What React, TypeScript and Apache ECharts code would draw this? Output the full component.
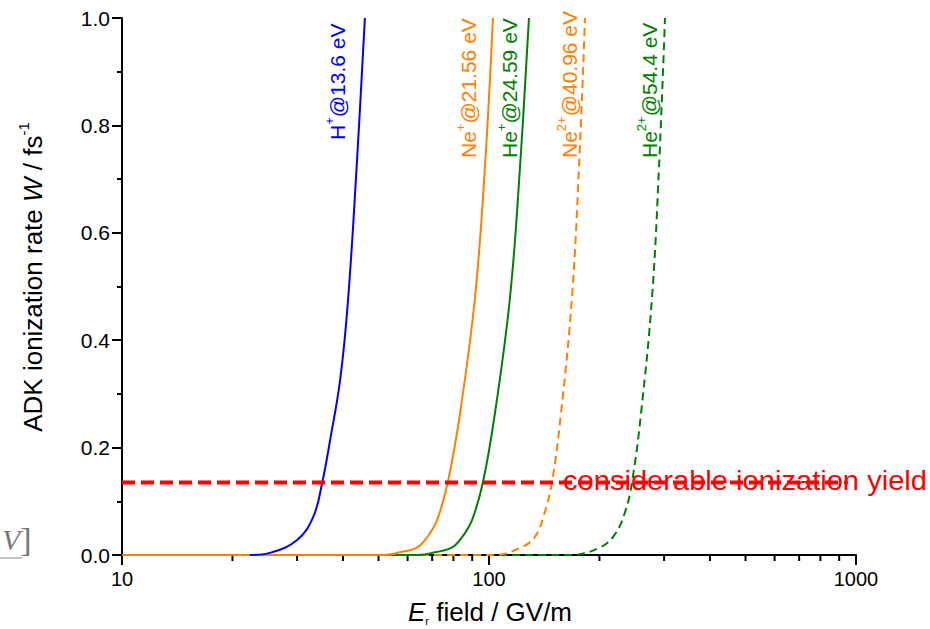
import React, { useEffect, useRef } from 'react';
import * as echarts from 'echarts';

// ---- data (field in GV/m, rate W in 1/fs) ----
const hPlusE = [22.3, 25.3, 30.0, 33.2, 35.1, 36.9, 39.3, 41.3, 43.7, 45.9];
const hPlusW = [0, 0.004, 0.028, 0.071, 0.134, 0.214, 0.326, 0.475, 0.736, 1.0];

const nePlusE = [10, 51.4, 57.2, 63.7, 67.8, 72.2, 77.3, 83.4, 91.6, 97.5, 102.5];
const nePlusW = [0, 0, 0.005, 0.014, 0.033, 0.065, 0.137, 0.264, 0.48, 0.723, 1.0];

const hePlusE = [10, 64.1, 71.3, 79.3, 84.4, 89.9, 96.3, 103.8, 114.1, 121.5, 128.5];
const hePlusW = [0, 0, 0.005, 0.014, 0.033, 0.065, 0.136, 0.264, 0.48, 0.723, 1.0];

const ne2PlusE = [10, 102.5, 121.5, 133.5, 141.2, 148.5, 157.1, 168.3, 175.9, 182.7];
const ne2PlusW = [0, 0, 0.013, 0.034, 0.075, 0.136, 0.264, 0.48, 0.723, 1.0];

const he2PlusE = [10, 166.2, 199.4, 219.1, 234.8, 245.3, 259.6, 278.1, 290.6, 301.7];
const he2PlusW = [0, 0, 0.013, 0.036, 0.08, 0.136, 0.264, 0.48, 0.723, 1.0];

const thresholdE = [10, 950];
const thresholdW = 0.135;

const xMinorTickValues = [20, 30, 40, 50, 60, 70, 80, 90, 200, 300, 400, 500, 600, 700, 800, 900];
const xTickLabels = ['10', '100', '1000'];

const seriesLabels = [
  { main: 'H', sup: '+', rest: '@13.6 eV', color: '#0000ff' },
  { main: 'Ne', sup: '+', rest: '@21.56 eV', color: '#ff8000' },
  { main: 'He', sup: '+', rest: '@24.59 eV', color: '#008000' },
  { main: 'Ne', sup: '2+', rest: '@40.96 eV', color: '#ff8000' },
  { main: 'He', sup: '2+', rest: '@54.4 eV', color: '#008000' },
];
const labelAnchors = [
  [337, 140],
  [468, 158],
  [509, 158],
  [569, 158],
  [649, 158],
];

const FONT = '"Liberation Sans", Arial, Helvetica, sans-serif';
const SERIF = '"Liberation Serif", "DejaVu Serif", serif';

const zip = (xs: number[], ys: number[]) => xs.map((x, i) => [x, ys[i]]);

export default function App() {
  const ref = useRef<HTMLDivElement>(null);

  useEffect(() => {
    if (!ref.current) return;
    const chart = echarts.init(ref.current, null, { renderer: 'svg' });

    const curve = (name: string, data: number[][], color: string, dashed: boolean, z: number) => ({
      name,
      type: 'line',
      data,
      symbol: 'none',
      smooth: 0.4,
      z,
      lineStyle: { color, width: 2, type: dashed ? [8, 5] : 'solid' },
      silent: true,
    });

    const labelGraphics = seriesLabels.map((l, i) => ({
      type: 'text',
      x: labelAnchors[i][0],
      y: labelAnchors[i][1],
      rotation: Math.PI / 2,
      style: {
        text: `{m|${l.main}}{s|${l.sup}}{m|${l.rest}}`,
        align: 'left',
        verticalAlign: 'middle',
        fill: l.color,
        rich: {
          m: { fontSize: 21, fontFamily: FONT, fill: l.color, lineHeight: 28 },
          s: { fontSize: 13, fontFamily: FONT, fill: l.color, verticalAlign: 'top', lineHeight: 28 },
        },
      },
      z: 20,
    }));

    chart.setOption({
      animation: false,
      backgroundColor: '#ffffff',
      grid: { left: 122, right: 74, top: 18, bottom: 74, containLabel: false },
      xAxis: {
        type: 'log',
        logBase: 10,
        min: 10,
        max: 1000,
        axisLine: { show: true, lineStyle: { color: '#000', width: 2 } },
        axisTick: { show: true, inside: false, length: 10, lineStyle: { color: '#000', width: 2 } },
        axisLabel: {
          show: true,
          margin: 14,
          fontSize: 20,
          fontFamily: FONT,
          color: '#000',
          formatter: (v: number) => {
            const s = String(Math.round(v));
            return xTickLabels.includes(s) ? s : '';
          },
        },
        splitLine: { show: false },
      },
      yAxis: {
        type: 'value',
        min: 0,
        max: 1,
        interval: 0.2,
        axisLine: { show: true, lineStyle: { color: '#000', width: 2 } },
        axisTick: { show: true, inside: false, length: 10, lineStyle: { color: '#000', width: 2 } },
        minorTick: { show: true, splitNumber: 2, length: 5, lineStyle: { color: '#000', width: 2 } },
        axisLabel: {
          margin: 12,
          fontSize: 21,
          fontFamily: FONT,
          color: '#000',
          formatter: (v: number) => v.toFixed(1),
        },
        splitLine: { show: false },
      },
      series: [
        curve('He2+', zip(he2PlusE, he2PlusW), '#008000', true, 2),
        curve('Ne2+', zip(ne2PlusE, ne2PlusW), '#ff8000', true, 3),
        curve('He+', zip(hePlusE, hePlusW), '#008000', false, 4),
        curve('Ne+', zip(nePlusE, nePlusW), '#ff8000', false, 5),
        curve('H+', zip(hPlusE, hPlusW), '#0000ff', false, 6),
        {
          name: 'threshold',
          type: 'line',
          data: thresholdE.map((e) => [e, thresholdW]),
          symbol: 'none',
          z: 8,
          silent: true,
          lineStyle: { color: '#ff0000', width: 4, type: [13, 6] },
        },
        {
          name: 'minorTicks',
          type: 'custom',
          data: xMinorTickValues.map((v) => [v, 0]),
          clip: false,
          silent: true,
          z: 10,
          renderItem: (_params: any, api: any) => {
            const p = api.coord([api.value(0), 0]);
            return {
              type: 'line',
              shape: { x1: p[0], y1: p[1] + 1, x2: p[0], y2: p[1] + 6 },
              style: { stroke: '#000', lineWidth: 2 },
            };
          },
        },
      ],
      graphic: [
        ...labelGraphics,
        {
          type: 'text',
          x: 563,
          y: 480,
          scaleX: 1.04,
          z: 30,
          style: {
            text: 'considerable ionization yield',
            fontSize: 28,
            fontFamily: FONT,
            fill: '#ff0000',
            align: 'left',
            verticalAlign: 'middle',
          },
        },
        {
          type: 'text',
          x: 33,
          y: 277,
          rotation: Math.PI / 2,
          style: {
            text: '{n|ADK ionization rate }{i|W}{n| / fs}{s|-1}',
            align: 'center',
            verticalAlign: 'middle',
            fill: '#000',
            rich: {
              n: { fontSize: 26, fontFamily: FONT, fill: '#000', lineHeight: 34 },
              i: { fontSize: 26, fontFamily: FONT, fontStyle: 'italic', fill: '#000', lineHeight: 34 },
              s: { fontSize: 15, fontFamily: FONT, fill: '#000', verticalAlign: 'top', lineHeight: 34 },
            },
          },
        },
        {
          type: 'text',
          x: 490,
          y: 612,
          style: {
            text: '{i|E}{b|r}{n| field / GV/m}',
            align: 'center',
            verticalAlign: 'middle',
            fill: '#000',
            rich: {
              n: { fontSize: 26, fontFamily: FONT, fill: '#000', lineHeight: 28 },
              i: { fontSize: 26, fontFamily: FONT, fontStyle: 'italic', fill: '#000', lineHeight: 28 },
              b: { fontSize: 11, fontFamily: FONT, fill: '#000', verticalAlign: 'bottom', lineHeight: 28 },
            },
          },
        },
        {
          type: 'text',
          x: 2,
          y: 556,
          style: {
            text: '{v|V}{b|]}',
            align: 'left',
            verticalAlign: 'bottom',
            fill: '#777',
            rich: {
              v: { fontSize: 30, fontFamily: SERIF, fontStyle: 'italic', fill: '#777' },
              b: { fontSize: 34, fontFamily: SERIF, fill: '#777' },
            },
          },
        },
        {
          type: 'line',
          shape: { x1: 0, y1: 558, x2: 22, y2: 558 },
          style: { stroke: '#888', lineWidth: 1 },
        },
      ],
    });

    return () => {
      chart.dispose();
    };
  }, []);

  return (
    <div
      ref={ref}
      style={{ position: 'fixed', left: 0, top: 0, width: 930, height: 629, background: '#fff' }}
    />
  );
}
